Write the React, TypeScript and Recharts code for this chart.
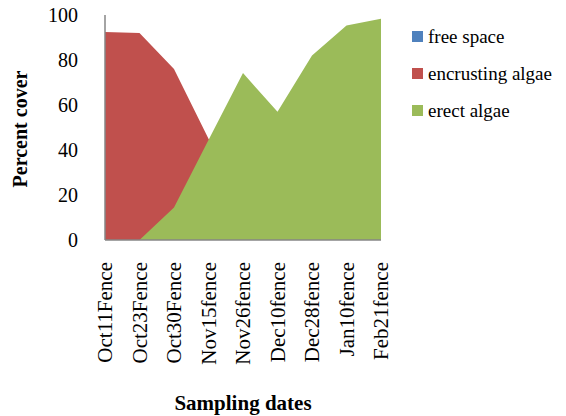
import { Area, AreaChart, XAxis, YAxis } from "recharts";

const dates = [
  "Oct11Fence",
  "Oct23Fence",
  "Oct30Fence",
  "Nov15fence",
  "Nov26fence",
  "Dec10fence",
  "Dec28fence",
  "Jan10fence",
  "Feb21fence",
];
const freeSpace = [7, 8, 9, 10, 8, 6, 5, 3, 2];
const encrustingAlgae = [92.5, 92, 76, 45, 18, 37, 13, 2, 0];
const erectAlgae = [0, 0, 14.5, 44.5, 74.2, 57, 82, 95.3, 98.3];
const yTicks = [0, 20, 40, 60, 80, 100];

const series = [
  { key: "free", name: "free space", color: "#4F81BD" },
  { key: "encrusting", name: "encrusting algae", color: "#C0504D" },
  { key: "erect", name: "erect algae", color: "#9BBB59" },
];

const data = dates.map((date, i) => ({
  date,
  free: freeSpace[i],
  encrusting: encrustingAlgae[i],
  erect: erectAlgae[i],
}));

const font = "'Liberation Serif', 'Times New Roman', serif";

function DateTick({ x, y, payload }: any) {
  return (
    <text
      x={x}
      y={y}
      transform={`rotate(-90, ${x}, ${y})`}
      textAnchor="end"
      dominantBaseline="central"
      fontFamily={font}
      fontSize={21}
      fill="#000"
    >
      {payload.value}
    </text>
  );
}

export default function App() {
  return (
    <div style={{ position: "absolute", left: 0, top: 0, width: 566, height: 416, background: "#fff" }}>
      <AreaChart
        width={566}
        height={416}
        data={data}
        margin={{ top: 15, right: 185, bottom: 51, left: 45 }}
      >
        <XAxis
          dataKey="date"
          interval={0}
          tick={<DateTick />}
          tickLine={false}
          tickMargin={16}
          height={125}
          axisLine={{ stroke: "#868686", strokeWidth: 1.5 }}
        />
        <YAxis
          domain={[0, 100]}
          ticks={yTicks}
          width={60}
          tickLine={false}
          tickMargin={21}
          axisLine={{ stroke: "#868686", strokeWidth: 1.5 }}
          tick={{ fontFamily: font, fontSize: 20, fill: "#000" }}
        />
        {series.map((s) => (
          <Area
            key={s.key}
            type="linear"
            dataKey={s.key}
            name={s.name}
            fill={s.color}
            fillOpacity={1}
            stroke="none"
            isAnimationActive={false}
          />
        ))}
        <text
          x={20}
          y={129}
          transform="rotate(-90, 20, 129)"
          textAnchor="middle"
          dominantBaseline="central"
          fontFamily={font}
          fontSize={20}
          fontWeight="bold"
          fill="#000"
        >
          Percent cover
        </text>
        <text
          x={243}
          y={403}
          textAnchor="middle"
          dominantBaseline="central"
          fontFamily={font}
          fontSize={21}
          fontWeight="bold"
          fill="#000"
        >
          Sampling dates
        </text>
      </AreaChart>
      <div
        style={{
          position: "absolute",
          left: 412,
          top: 18,
          fontFamily: font,
          fontSize: 19,
          color: "#000",
        }}
      >
        {series.map((s) => (
          <div key={s.key} style={{ display: "flex", alignItems: "center", height: 37 }}>
            <span style={{ width: 11, height: 11, background: s.color, marginRight: 5 }} />
            {s.name}
          </div>
        ))}
      </div>
    </div>
  );
}
